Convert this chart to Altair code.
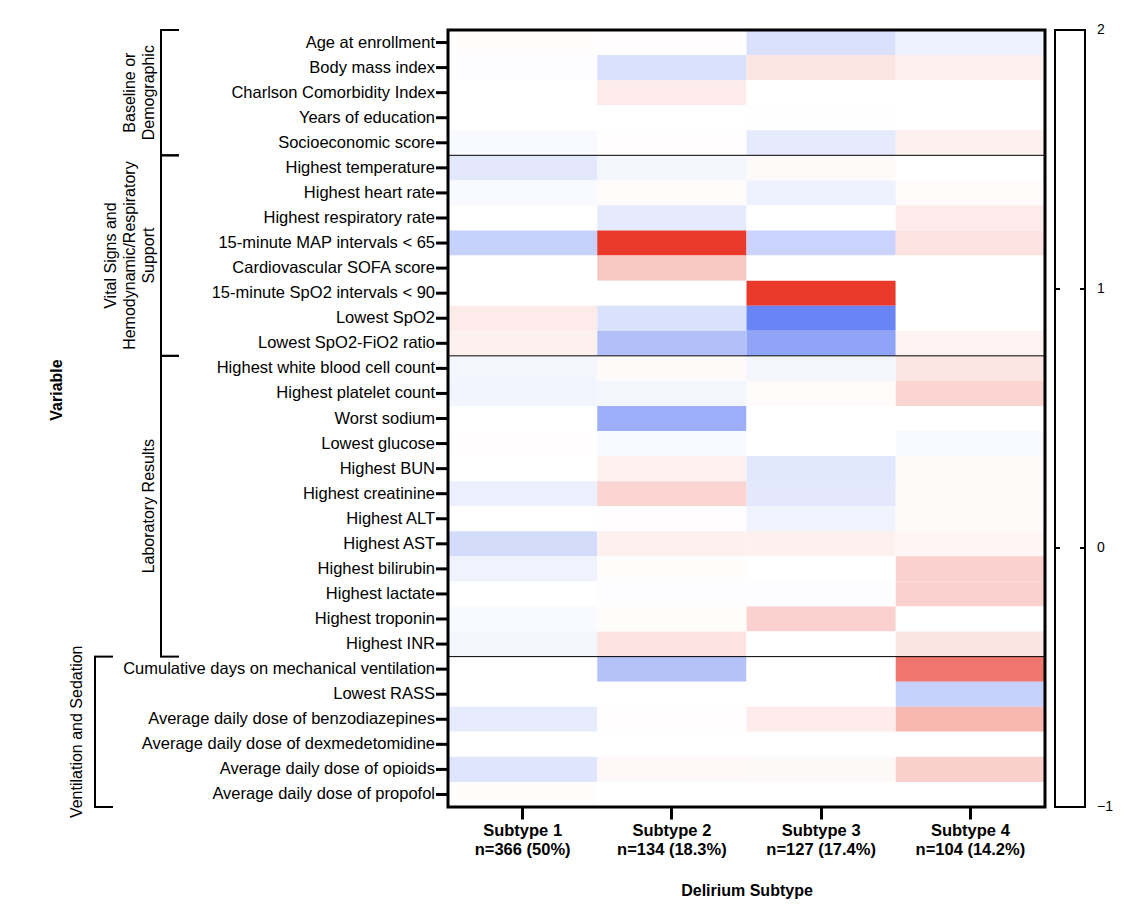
import altair as alt
import pandas as pd

# ---- data -----------------------------------------------------------------
variables = [
    "Age at enrollment", "Body mass index", "Charlson Comorbidity Index",
    "Years of education", "Socioeconomic score",
    "Highest temperature", "Highest heart rate", "Highest respiratory rate",
    "15-minute MAP intervals < 65", "Cardiovascular SOFA score",
    "15-minute SpO2 intervals < 90", "Lowest SpO2", "Lowest SpO2-FiO2 ratio",
    "Highest white blood cell count", "Highest platelet count", "Worst sodium",
    "Lowest glucose", "Highest BUN", "Highest creatinine", "Highest ALT",
    "Highest AST", "Highest bilirubin", "Highest lactate", "Highest troponin",
    "Highest INR",
    "Cumulative days on mechanical ventilation", "Lowest RASS",
    "Average daily dose of benzodiazepines",
    "Average daily dose of dexmedetomidine",
    "Average daily dose of opioids", "Average daily dose of propofol",
]

subtypes = ["Subtype 1", "Subtype 2", "Subtype 3", "Subtype 4"]
subtype_n = ["n=366 (50%)", "n=134 (18.3%)", "n=127 (17.4%)", "n=104 (14.2%)"]

# standardized value of each variable within each subtype (variable order)
subtype1 = [0.03, -0.01, 0.00, 0.00, -0.03,
            -0.13, -0.03, 0.00, -0.26, 0.00, 0.00, 0.20, 0.14,
            -0.05, -0.06, 0.00, 0.02, 0.00, -0.09, 0.00, -0.20, -0.07, 0.00, -0.03, -0.05,
            0.00, 0.00, -0.11, 0.00, -0.15, 0.03]
subtype2 = [0.02, -0.18, 0.20, 0.00, 0.02,
            -0.05, 0.04, -0.12, 2.00, 0.57, 0.00, -0.17, -0.36,
            0.05, -0.05, -0.46, -0.03, 0.13, 0.42, 0.02, 0.15, 0.03, -0.01, 0.03, 0.28,
            -0.35, 0.00, 0.02, 0.00, 0.07, 0.00]
subtype3 = [-0.17, 0.25, 0.00, 0.01, -0.12,
            0.05, -0.08, 0.00, -0.25, 0.00, 2.00, -0.70, -0.52,
            -0.05, 0.04, 0.00, 0.00, -0.14, -0.13, -0.07, 0.14, 0.00, -0.01, 0.46, 0.00,
            0.00, 0.00, 0.19, 0.00, 0.06, 0.00]
subtype4 = [-0.08, 0.15, 0.00, 0.00, 0.14,
            0.00, 0.04, 0.20, 0.28, 0.00, 0.00, 0.00, 0.12,
            0.26, 0.42, 0.00, -0.03, 0.05, 0.05, 0.05, 0.10, 0.46, 0.46, 0.00, 0.27,
            1.38, -0.27, 0.72, 0.00, 0.47, 0.00]

group_names = ["Baseline or\nDemographic",
               "Vital Signs and\nHemodynamic/Respiratory\nSupport",
               "Laboratory Results",
               "Ventilation and Sedation"]
group_sizes = [5, 8, 12, 6]

legend_ticks = [-1, 0, 1, 2]

# ---- layout constants -----------------------------------------------------
W, H = 597, 777
FONT = "Liberation Sans"
TICK = 12
# bracket x (relative to plot left) and label offset for each group
bracket_x = [-287, -287, -287, -353]
bracket_arm = 18
label_gap = [4, 4, 4, 10]
LINE_H = 19

n_rows = len(variables)
col_names = [f"{s}|{n}" for s, n in zip(subtypes, subtype_n)]

rows = []
for c, vals in enumerate([subtype1, subtype2, subtype3, subtype4]):
    for r, v in enumerate(vals):
        rows.append({"subtype": col_names[c], "row": r, "row_end": r + 1, "value": v})
cells = pd.DataFrame(rows)

y_scale = alt.Scale(domain=[0, n_rows], reverse=True, nice=False, zero=False)

heat = alt.Chart(cells).mark_rect().encode(
    x=alt.X("subtype:N", sort=col_names,
            scale=alt.Scale(paddingInner=0, paddingOuter=0),
            axis=alt.Axis(labelExpr="split(datum.label, '|')", labelAngle=0,
                          labelFont=FONT, labelFontSize=16.5, labelFontWeight="bold",
                          labelLineHeight=19, labelColor="black", labelPadding=3,
                          tickSize=TICK, tickWidth=3, tickColor="black", domain=False,
                          title="Delirium Subtype", titleFont=FONT, titleFontSize=16,
                          titleFontWeight="bold", titleColor="black", titlePadding=25)),
    y=alt.Y("row:Q", scale=y_scale, axis=None),
    y2="row_end:Q",
    color=alt.Color("value:Q", legend=None,
                    scale=alt.Scale(domain=[-1, 0, 2],
                                    range=["#2850F0", "#FFFFFF", "#E8392A"],
                                    interpolate="rgb", clamp=True, zero=False)),
)

# variable names and their ticks on the left edge
names = pd.DataFrame({"name": variables, "mid": [i + 0.5 for i in range(n_rows)]})
y_labels = alt.Chart(names).mark_text(
    align="right", baseline="middle", font=FONT, fontSize=16.5, color="black").encode(
    text="name:N", y=alt.Y("mid:Q", axis=None), x=alt.value(-TICK - 1))
y_ticks = alt.Chart(names).mark_rule(color="black", strokeWidth=3).encode(
    y=alt.Y("mid:Q", axis=None), x=alt.value(-TICK), x2=alt.value(0))

# thin lines separating variable groups inside the plot
bounds = []
acc = 0
for size in group_sizes:
    bounds.append((acc, acc + size))
    acc += size
sep = alt.Chart(pd.DataFrame({"b": [b[1] for b in bounds[:-1]]})).mark_rule(
    color="black", strokeWidth=1).encode(
    y=alt.Y("b:Q", axis=None), x=alt.value(0), x2=alt.value(W))

one = alt.Data(values=[{}])
frame = alt.Chart(one).mark_rect(fillOpacity=0, stroke="black", strokeWidth=3).encode(
    x=alt.value(0), x2=alt.value(W), y=alt.value(0), y2=alt.value(H))

layers = [heat, sep, frame, y_ticks, y_labels]

# group brackets with their rotated labels
for (start, end), name, bx, gap in zip(bounds, group_names, bracket_x, label_gap):
    layers.append(alt.Chart(one).mark_rule(color="black", strokeWidth=2).encode(
        x=alt.value(bx), y=alt.YDatum(start, axis=None), y2=alt.datum(end)))
    for edge in (start, end):
        layers.append(alt.Chart(one).mark_rule(color="black", strokeWidth=2).encode(
            x=alt.value(bx - 1), x2=alt.value(bx + bracket_arm),
            y=alt.YDatum(edge, axis=None)))
    lines = name.split("\n")
    layers.append(alt.Chart(one).mark_text(
        text=lines, angle=270, align="center", baseline="bottom",
        font=FONT, fontSize=16, lineHeight=LINE_H, color="black").encode(
        x=alt.value(bx - gap - (len(lines) - 1) * LINE_H),
        y=alt.YDatum((start + end) / 2, axis=None)))

layers.append(alt.Chart(one).mark_text(
    text="Variable", angle=270, align="center", baseline="middle",
    font=FONT, fontSize=16, fontWeight="bold", color="black").encode(
    x=alt.value(-391), y=alt.value(360)))

main = alt.layer(*layers).properties(width=W, height=H)

# colour key: outlined box with its scale on the right
LW = 30
key_scale = alt.Scale(domain=[min(legend_ticks), max(legend_ticks)], nice=False, zero=False)
key_box = alt.Chart(one).mark_rect(fill="white", stroke="black", strokeWidth=2).encode(
    x=alt.value(0), x2=alt.value(LW),
    y=alt.YDatum(min(legend_ticks), scale=key_scale, axis=None),
    y2=alt.datum(max(legend_ticks)))
key_df = pd.DataFrame({"v": legend_ticks})
inner = key_df[(key_df.v > min(legend_ticks)) & (key_df.v < max(legend_ticks))]
key_tick_l = alt.Chart(inner).mark_rule(color="black", strokeWidth=2).encode(
    y=alt.Y("v:Q", axis=None), x=alt.value(0), x2=alt.value(5))
key_tick_r = alt.Chart(inner).mark_rule(color="black", strokeWidth=2).encode(
    y=alt.Y("v:Q", axis=None), x=alt.value(LW - 5), x2=alt.value(LW))
key_labels = alt.Chart(key_df).mark_text(
    align="left", baseline="middle", font=FONT, fontSize=14, color="black").encode(
    text=alt.Text("v:Q", format="d"), y=alt.Y("v:Q", axis=None), x=alt.value(LW + 12))
key = alt.layer(key_box, key_tick_l, key_tick_r, key_labels).properties(width=LW, height=H)

chart = alt.hconcat(main, key, spacing=7).properties(
    padding={"left": 49, "top": 23, "right": 5, "bottom": 5},
    background="white",
).configure_view(stroke=None)

chart.save("out.html", embed_options={"renderer": "svg", "actions": False})
